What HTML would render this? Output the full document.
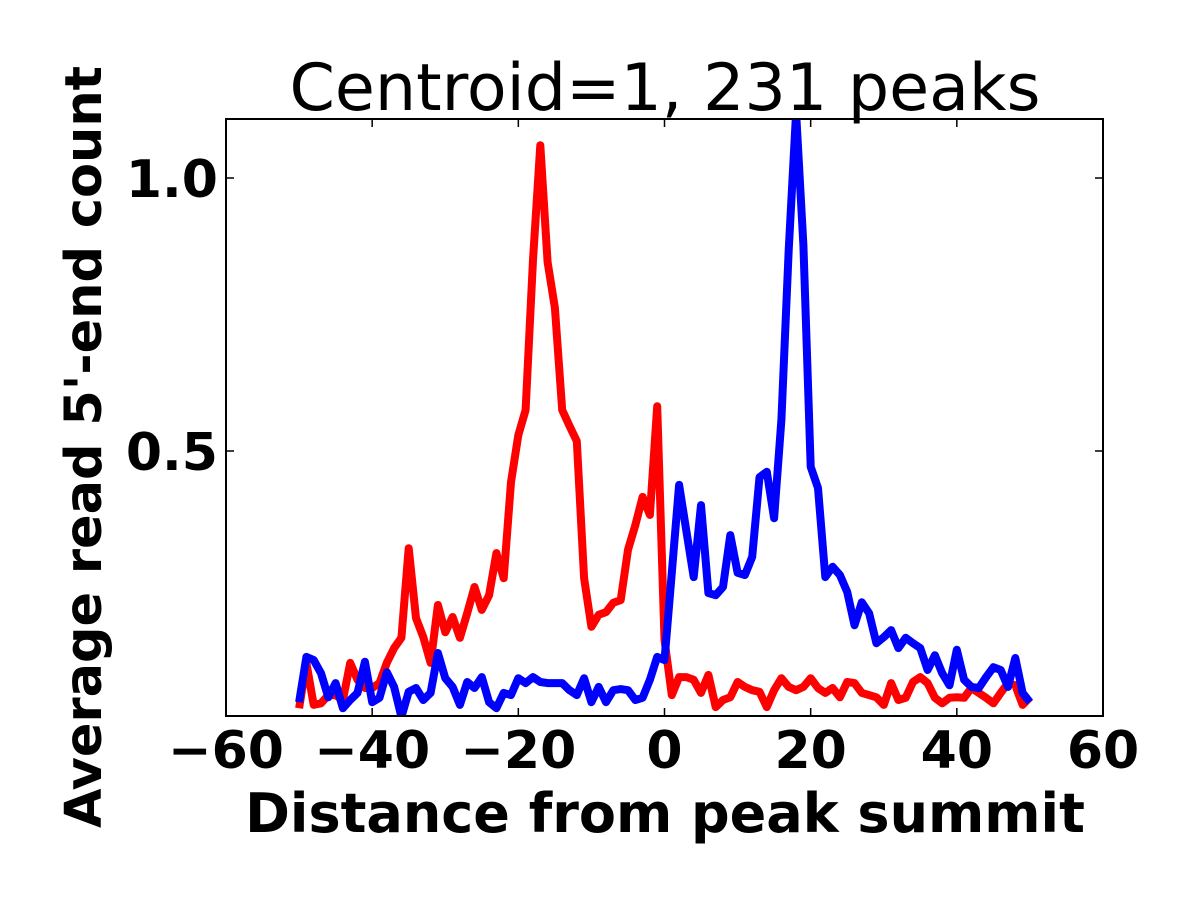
<!DOCTYPE html>
<html><head><meta charset="utf-8"><style>
body{margin:0;background:#fff}
svg{display:block;font-family:"DejaVu Sans","Liberation Sans",sans-serif}
.tk{font-size:52px;font-weight:bold}
</style></head><body>
<svg id="chart" width="1200" height="900" viewBox="0 0 1200 900">
<defs><clipPath id="clip"><rect x="226" y="119" width="877" height="597"/></clipPath></defs>
<rect width="1200" height="900" fill="#fff"/>
<text x="665" y="110" text-anchor="middle" font-size="65">Centroid=1, 231 peaks</text>
<g id="series" clip-path="url(#clip)"></g>
<rect x="226" y="119" width="877" height="597" fill="none" stroke="#000" stroke-width="2"/>
<g id="axes"></g>
<text x="665" y="832" text-anchor="middle" font-size="54" font-weight="bold">Distance from peak summit</text>
<text transform="translate(101,447) rotate(-90)" text-anchor="middle" font-size="51" font-weight="bold">Average read 5'-end count</text>
</svg>
<script>
const xStart = -50;
const redValues = [0.029,0.112,0.035,0.038,0.053,0.053,0.044,0.112,0.081,0.066,0.066,0.075,0.112,0.139,0.158,0.322,0.194,0.159,0.112,0.218,0.168,0.196,0.158,0.203,0.251,0.209,0.236,0.313,0.267,0.443,0.529,0.575,0.850,1.060,0.846,0.762,0.575,0.546,0.518,0.267,0.178,0.200,0.205,0.222,0.227,0.319,0.364,0.416,0.383,0.582,0.154,
0.053,0.086,0.086,0.081,0.057,0.090,0.031,0.044,0.049,0.077,0.068,0.062,0.059,0.031,0.062,0.084,0.068,0.062,0.068,0.084,0.066,0.057,0.066,0.049,0.077,0.075,0.057,0.053,0.049,0.035,0.075,0.044,0.048,0.077,0.086,0.075,0.048,0.038,0.048,0.049,0.048,0.066,0.057,0.048,0.038,0.057,0.075,0.071,0.035,0.049];
const blueValues = [0.040,0.123,0.117,0.093,0.049,0.075,0.029,0.044,0.057,0.114,0.040,0.048,0.095,0.068,0.013,0.059,0.066,0.044,0.057,0.130,0.084,0.068,0.035,0.077,0.066,0.086,0.040,0.029,0.057,0.053,0.084,0.075,0.086,0.077,0.075,0.075,0.075,0.062,0.053,0.084,0.040,0.068,0.040,0.062,0.064,0.062,0.044,0.048,0.081,0.123,0.117,
0.277,0.438,0.353,0.269,0.401,0.240,0.236,0.251,0.346,0.277,0.273,0.306,0.452,0.462,0.377,0.557,0.868,1.120,0.877,0.471,0.432,0.269,0.288,0.273,0.242,0.181,0.223,0.203,0.148,0.159,0.172,0.139,0.158,0.148,0.139,0.099,0.126,0.093,0.071,0.136,0.081,0.068,0.066,0.086,0.104,0.099,0.068,0.121,0.057,0.040];
const xTicks = [-60,-40,-20,0,20,40,60];
const xTickLabels = ["\u221260","\u221240","\u221220","0","20","40","60"];
const yTicks = [0.5,1.0];
const yTickLabels = ["0.5","1.0"];

const X0=226,X1=1103,Y0=716,Y1=119;
const xMin=-60,xMax=60,yMin=0.0147,yMax=1.108;
function sx(v){return X0+(v-xMin)/(xMax-xMin)*(X1-X0);}
function sy(v){return Y0-(v-yMin)/(yMax-yMin)*(Y0-Y1);}
const NS="http://www.w3.org/2000/svg";
const g=document.getElementById('series');
function line(vals,color,name){
  const p=document.createElementNS(NS,'path');
  p.setAttribute('d',vals.map((v,i)=>(i?'L':'M')+sx(xStart+i).toFixed(1)+','+sy(v).toFixed(1)).join(''));
  p.setAttribute('fill','none');p.setAttribute('stroke',color);p.setAttribute('stroke-width','8');
  p.setAttribute('stroke-linejoin','round');
  
  
  g.appendChild(p);
}
line(redValues,'#ff0000','red-series-line');
line(blueValues,'#0000ff','blue-series-line');
const ax=document.getElementById('axes');
xTicks.forEach((t,i)=>{
  const x=sx(t);
  const a=document.createElementNS(NS,'path');
  a.setAttribute('d',`M${x},${Y0}v-8M${x},${Y1}v8`);a.setAttribute('stroke','#000');a.setAttribute('stroke-width','1.5');
  
  
  ax.appendChild(a);
  const tx=document.createElementNS(NS,'text');
  tx.setAttribute('x',x);tx.setAttribute('y',768);tx.setAttribute('text-anchor','middle');tx.setAttribute('class','tk');
  tx.textContent=xTickLabels[i];
  
  
  ax.appendChild(tx);
});
yTicks.forEach((t,i)=>{
  const y=sy(t);
  const a=document.createElementNS(NS,'path');
  a.setAttribute('d',`M${X0},${y}h8M${X1},${y}h-8`);a.setAttribute('stroke','#000');a.setAttribute('stroke-width','1.5');
  
  
  ax.appendChild(a);
  const tx=document.createElementNS(NS,'text');
  tx.setAttribute('x',218);tx.setAttribute('y',y+19);tx.setAttribute('text-anchor','end');tx.setAttribute('class','tk');
  tx.textContent=yTickLabels[i];
  
  
  ax.appendChild(tx);
});
</script>
</body></html>
